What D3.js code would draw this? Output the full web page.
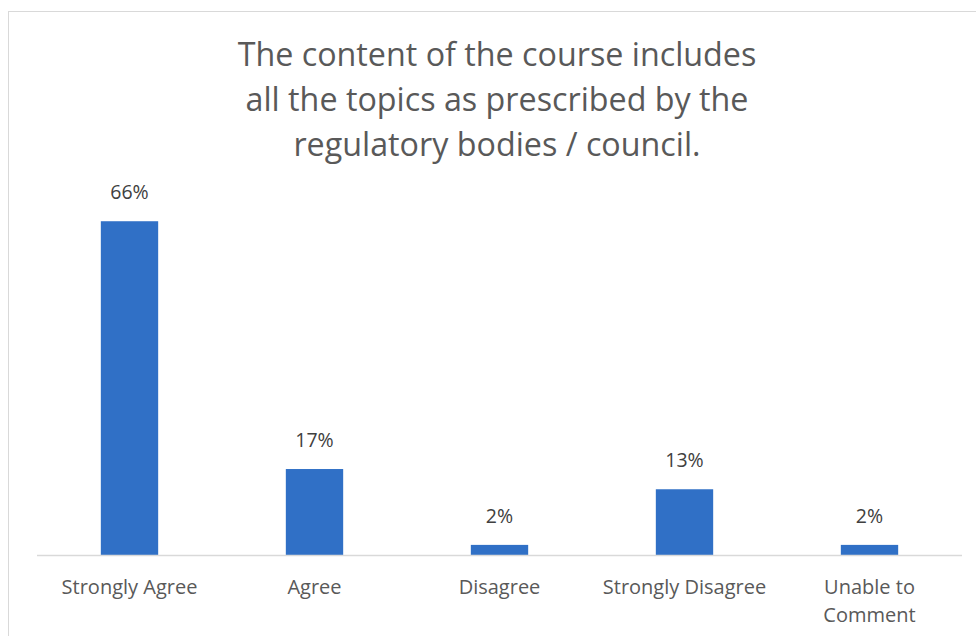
<!DOCTYPE html>
<html><head><meta charset="utf-8">
<script src="https://cdn.jsdelivr.net/npm/d3@7"></script>
<style>body{margin:0;background:#fff}svg{display:block}</style>
</head><body>
<svg id="c" width="976" height="636"></svg>
<script>
const categories = ["Strongly Agree","Agree","Disagree","Strongly Disagree","Unable to Comment"];
const values = [0.66, 0.17, 0.02, 0.13, 0.02];
const valueLabels = ["66%","17%","2%","13%","2%"];
const titleLines = ["The content of the course includes","all the topics as prescribed by the","regulatory bodies / council."];

const font = "'Open Sans', sans-serif";
const svg = d3.select("#c");
svg.append("rect").attr("x",8.5).attr("y",11.5).attr("width",1000).attr("height",700)
  .attr("fill","#fff").attr("stroke","#d9d9d9").attr("stroke-width",1);

const x = d3.scaleBand().domain(categories).range([37,962]).paddingInner(0.69).paddingOuter(0.345);
const y = d3.scaleLinear().domain([0,0.7]).range([555,201]);

const title = svg.append("g").selectAll("text").data(titleLines).join("text")
  .attr("x",497).attr("y",(d,i)=>66+i*45).attr("text-anchor","middle")
  .attr("font-family",font).attr("font-size",31).attr("fill","#595959").text(d=>d);
const w0 = title.node().getComputedTextLength();
title.attr("font-size",31*519/w0);

svg.append("g").selectAll("rect").data(values).join("rect")
  .attr("x",(d,i)=>x(categories[i])).attr("width",x.bandwidth())
  .attr("y",d=>y(d)).attr("height",d=>y(0)-y(d)).attr("fill","#3070c6");

svg.append("line").attr("x1",37).attr("x2",962).attr("y1",555.5).attr("y2",555.5)
  .attr("stroke","#d9d9d9").attr("stroke-width",1.5);

svg.append("g").selectAll("text").data(values).join("text")
  .attr("x",(d,i)=>x(categories[i])+x.bandwidth()/2).attr("y",d=>y(d)-22)
  .attr("text-anchor","middle").attr("font-family",font).attr("font-size",19.5).attr("fill","#404040")
  .text((d,i)=>valueLabels[i]);

const lab = svg.append("g").selectAll("text").data(categories).join("text")
  .attr("x",d=>x(d)+x.bandwidth()/2).attr("y",594)
  .attr("text-anchor","middle").attr("font-family",font).attr("font-size",20).attr("fill","#595959");
lab.each(function(d){
  const t = d3.select(this);
  const lines = d==="Unable to Comment" ? ["Unable to","Comment"] : [d];
  lines.forEach((l,i)=>t.append("tspan").attr("x",x(d)+x.bandwidth()/2).attr("dy",i?28:0).text(l));
});
</script>
</body></html>
